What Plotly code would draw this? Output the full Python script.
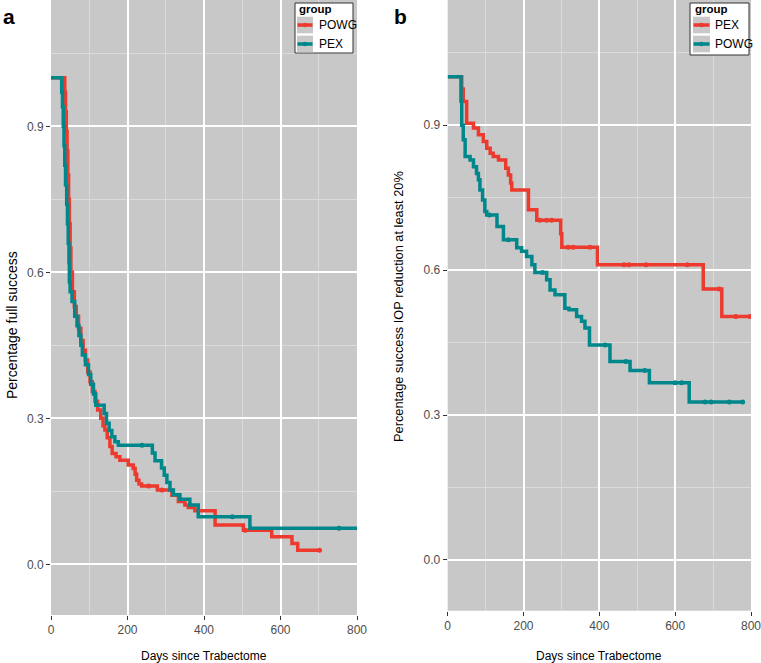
import plotly.graph_objects as go

# ---------------- data ----------------
# Panel a: full success (Kaplan-Meier, days since Trabectome)
a_powg_t = [0, 36, 38, 40, 42, 44, 46, 48, 50, 52, 56, 61, 66, 72, 78, 84, 90, 96, 102, 108,
            115, 122, 130, 136, 141, 147, 154, 160, 170, 180, 202, 215, 220, 224, 230, 237,
            278, 316, 333, 350, 359, 376, 429, 503, 577, 630, 645, 702]
a_powg_s = [1.0, 0.97, 0.93, 0.89, 0.85, 0.80, 0.75, 0.70, 0.65, 0.60, 0.56, 0.53, 0.51, 0.485,
            0.46, 0.44, 0.42, 0.395, 0.375, 0.355, 0.335, 0.317, 0.30, 0.285, 0.276, 0.26, 0.242,
            0.228, 0.221, 0.214, 0.204, 0.197, 0.185, 0.173, 0.165, 0.161, 0.153, 0.142, 0.129,
            0.122, 0.117, 0.11, 0.081, 0.07, 0.057, 0.043, 0.029, 0.029]
a_powg_cens_t = [255, 290, 508, 702]
a_powg_cens_s = [0.161, 0.153, 0.07, 0.029]

a_pex_t = [0, 28, 30, 32, 34, 36, 38, 41, 43, 45, 47, 48, 50, 55, 62, 68, 73, 78, 82, 90, 98,
           104, 111, 117, 139, 145, 152, 159, 167, 176, 265, 272, 289, 296, 303, 311, 320, 337,
           363, 385, 520, 800]
a_pex_s = [1.0, 0.97, 0.94, 0.90, 0.86, 0.82, 0.78, 0.74, 0.70, 0.66, 0.62, 0.58, 0.56, 0.54,
           0.51, 0.49, 0.47, 0.45, 0.43, 0.41, 0.39, 0.37, 0.35, 0.327, 0.31, 0.29, 0.275, 0.262,
           0.252, 0.245, 0.229, 0.213, 0.198, 0.183, 0.168, 0.153, 0.143, 0.134, 0.122, 0.098,
           0.074, 0.074]
a_pex_cens_t = [238, 474, 753]
a_pex_cens_s = [0.245, 0.098, 0.074]

# Panel b: success with IOP reduction of at least 20%
b_pex_t = [0, 37, 41, 50, 68, 81, 94, 103, 112, 120, 134, 153, 160, 166, 169, 213, 235, 298,
           301, 395, 674, 723, 797]
b_pex_s = [1.0, 0.975, 0.949, 0.904, 0.894, 0.88, 0.866, 0.852, 0.842, 0.835, 0.828, 0.811,
           0.797, 0.78, 0.766, 0.725, 0.703, 0.675, 0.647, 0.611, 0.561, 0.504, 0.504]
b_pex_cens_t = [243, 261, 274, 318, 331, 375, 465, 478, 523, 632, 716, 760, 797]
b_pex_cens_s = [0.703, 0.703, 0.703, 0.647, 0.647, 0.647, 0.611, 0.611, 0.611, 0.611, 0.561,
                0.504, 0.504]

b_powg_t = [0, 35, 37, 41, 46, 59, 68, 76, 81, 85, 92, 98, 103, 130, 147, 182, 195, 208, 222,
            230, 261, 270, 283, 309, 320, 340, 353, 362, 374, 428, 481, 532, 637, 780]
b_powg_s = [1.0, 0.95, 0.90, 0.87, 0.835, 0.828, 0.814, 0.80, 0.787, 0.766, 0.745, 0.721,
            0.714, 0.69, 0.663, 0.646, 0.639, 0.628, 0.611, 0.595, 0.58, 0.559, 0.549, 0.521,
            0.518, 0.504, 0.494, 0.48, 0.445, 0.411, 0.392, 0.367, 0.327, 0.327]
b_powg_cens_t = [110, 160, 250, 415, 470, 520, 600, 617, 679, 695, 743, 778]
b_powg_cens_s = [0.714, 0.663, 0.595, 0.445, 0.411, 0.392, 0.367, 0.367, 0.327, 0.327, 0.327,
                 0.327]

x_ticks = [0, 200, 400, 600, 800]
x_minor = [100, 300, 500, 700]
y_ticks = [0.0, 0.3, 0.6, 0.9]
y_ticktext = ["0.0", "0.3", "0.6", "0.9"]
y_minor = [0.15, 0.45, 0.75, 1.05]

# ---------------- style ----------------
W, H = 761, 663
RED = "#EC3A2E"
TEAL = "#00878C"
BG = "#C8C8C8"
FONT = "Liberation Sans, Arial, sans-serif"
LW = 3.5


def px(x):
    return x / W


def py(y):
    return 1 - y / H


fig = go.Figure()


def add_curve(t, s, ct, cs, color, xa, ya):
    fig.add_trace(go.Scatter(x=t, y=s, mode="lines", line=dict(shape="hv", color=color, width=LW),
                             xaxis=xa, yaxis=ya, showlegend=False, hoverinfo="skip"))
    fig.add_trace(go.Scatter(x=ct, y=cs, mode="markers", marker=dict(color=color, size=5),
                             xaxis=xa, yaxis=ya, showlegend=False, hoverinfo="skip"))


add_curve(a_powg_t, a_powg_s, a_powg_cens_t, a_powg_cens_s, RED, "x", "y")
add_curve(a_pex_t, a_pex_s, a_pex_cens_t, a_pex_cens_s, TEAL, "x", "y")
add_curve(b_pex_t, b_pex_s, b_pex_cens_t, b_pex_cens_s, RED, "x2", "y2")
add_curve(b_powg_t, b_powg_s, b_powg_cens_t, b_powg_cens_s, TEAL, "x2", "y2")


def xaxis(dom):
    return dict(domain=dom, range=[0, 800], tickvals=x_ticks, showgrid=True, gridcolor="white",
                gridwidth=1.5, zeroline=False, showline=False, ticks="outside", ticklen=4,
                tickwidth=1, tickcolor="#333333", tickfont=dict(size=12, color="#4D4D4D"),
                ticklabeloverflow="allow",
                minor=dict(tickvals=x_minor, showgrid=True, gridcolor="#DADADA", gridwidth=0.8,
                           ticks=""), fixedrange=True, automargin=False)


def yaxis(dom, rng):
    return dict(domain=dom, range=rng, tickvals=y_ticks, ticktext=y_ticktext, showgrid=True,
                gridcolor="white", gridwidth=1.5, zeroline=False, showline=False,
                ticks="outside", ticklen=4, tickwidth=1, tickcolor="#333333",
                tickfont=dict(size=12, color="#4D4D4D"), ticklabeloverflow="allow",
                minor=dict(tickvals=y_minor, showgrid=True, gridcolor="#DADADA", gridwidth=0.8,
                           ticks=""), fixedrange=True, automargin=False)


fig.update_layout(
    width=W, height=H, margin=dict(l=0, r=0, t=0, b=0, autoexpand=False),
    paper_bgcolor="white", plot_bgcolor=BG, showlegend=False,
    font=dict(family=FONT, color="black"),
    xaxis=xaxis([px(51), px(357)]),
    yaxis=yaxis([py(615), 1.0], [-0.104, 1.1595]),
    xaxis2=dict(xaxis([px(447.7), px(751)]), anchor="y2"),
    yaxis2=dict(yaxis([py(610.7), 1.0], [-0.105, 1.159]), anchor="x2"),
)

ann = []
shapes = []


def note(text, x, y, size, xanchor="left", angle=0):
    ann.append(dict(text=text, x=px(x), y=py(y), xref="paper", yref="paper", xanchor=xanchor,
                    yanchor="middle", textangle=angle, showarrow=False,
                    font=dict(size=size, family=FONT, color="black")))


# panel letters
note("<b>a</b>", 1, 16, 21)
note("<b>b</b>", 392, 16, 21)

# axis titles
note("Days since Trabectome", 204, 656, 12, "center")
note("Days since Trabectome", 599.4, 656, 12, "center")
note("Percentage full success", 12, 325, 14, "center", -90)
note("Percentage success IOP reduction at least 20%", 398, 307, 12.8, "center", -90)


# manual legends (ggplot style)
def legend(x0, x1, y1, keyx0, keyx1, textx, names, colors):
    shapes.append(dict(type="rect", xref="paper", yref="paper", x0=px(x0), x1=px(x1),
                       y0=py(y1), y1=py(3), fillcolor="white", line=dict(color="#333333", width=1),
                       layer="above"))
    note("<b>group</b>", keyx0, 9, 11.5)
    for i, (nm, col) in enumerate(zip(names, colors)):
        ky0 = 16.7 + i * 19
        ky1 = ky0 + 16.6
        kc = (ky0 + ky1) / 2
        shapes.append(dict(type="rect", xref="paper", yref="paper", x0=px(keyx0), x1=px(keyx1),
                           y0=py(ky1), y1=py(ky0), fillcolor=BG, line=dict(width=0),
                           layer="above"))
        shapes.append(dict(type="line", xref="paper", yref="paper", x0=px(keyx0 + 0.5),
                           x1=px(keyx1 - 0.5), y0=py(kc), y1=py(kc),
                           line=dict(color=col, width=LW), layer="above"))
        xc = (keyx0 + keyx1) / 2
        shapes.append(dict(type="circle", xref="paper", yref="paper", x0=px(xc - 2.3),
                           x1=px(xc + 2.3), y0=py(kc + 2.3), y1=py(kc - 2.3),
                           fillcolor=col, line=dict(width=0), layer="above"))
        note(nm, textx, kc, 12)


legend(295, 353, 53, 297, 313, 316.5, ["POWG", "PEX"], [RED, TEAL])
legend(690, 749, 55, 693, 710, 713, ["PEX", "POWG"], [RED, TEAL])

fig.update_layout(annotations=ann, shapes=shapes)

fig.write_html("out.html", config={"displayModeBar": False},
               post_script="document.body.style.margin='0';document.body.style.padding='0';")
